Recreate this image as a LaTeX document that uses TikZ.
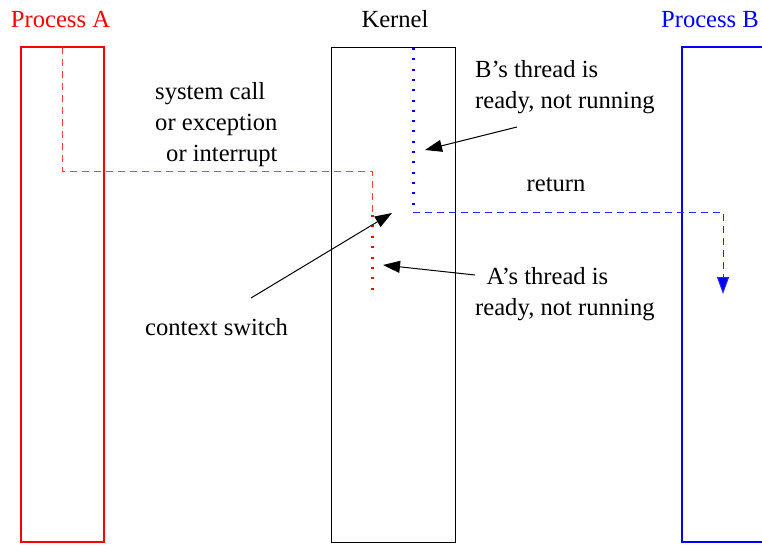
\documentclass[tikz,border=0pt]{standalone}
\usepackage{fontspec}
\setmainfont{Liberation Serif}
\usetikzlibrary{arrows.meta}
\begin{document}
\begin{tikzpicture}[x=1pt,y=-1pt,
  lbl/.style={inner sep=0pt,anchor=base west,font=\fontsize{24.6}{31}\selectfont},
  ttl/.style={inner sep=0pt,anchor=base,font=\fontsize{24.6}{31}\selectfont},
  pointer/.style={draw=black,line width=1pt,-{Triangle[length=17pt,width=12pt]}},
  redflow/.style={draw=red!75,line width=1pt,dash pattern=on 7pt off 5pt},
  reddot/.style={draw=red,line width=3pt,dash pattern=on 2pt off 8.4pt},
  blueflow/.style={draw=blue!85,line width=1pt,dash pattern=on 7pt off 5pt,-{Triangle[length=17pt,width=12pt,fill=blue]}},
  bluedot/.style={draw=blue,line width=3pt,dash pattern=on 2pt off 8.3pt}]
\useasboundingbox (0,0) rectangle (762,544);
% boxes
\draw[red,line width=2pt] (21,47) rectangle (104,542);
\draw[black,line width=1pt] (331,47) rectangle (455,542);
\draw[blue,line width=2pt] (775,542) -- (682,542) -- (682,47) -- (775,47);
% titles
\node[ttl,red] (pa) at (60.5,27) {Process A};
\node[ttl] (kn) at (395,27) {Kernel};
\node[ttl,blue] (pb) at (710,27) {Process B};
% coordinates
\coordinate (a0) at (62,47);
\coordinate (a1) at (62,171);
\coordinate (a2) at (372,171);
\coordinate (a3) at (372,215);
\coordinate (a4) at (372,290);
\coordinate (b0) at (413,48);
\coordinate (b1) at (413,207);
\coordinate (b2) at (413,212);
\coordinate (b3) at (723,212);
\coordinate (b4) at (723,294);
% flows
\draw[redflow] (a0) -- (a1) -- (a2) -- (a3);
\draw[reddot] (a3) -- (a4);
\draw[bluedot] (b0) -- (b1);
\draw[blueflow] (b2) -- (b3) -- (b4);
% labels
\node[lbl] (sc1) at (155,99) {system call};
\node[lbl] (sc2) at (155,130) {or exception};
\node[lbl] (sc3) at (166,161) {or interrupt};
\node[lbl] (bt1) at (475,77) {B’s thread is};
\node[lbl] (bt2) at (475,108) {ready, not running};
\node[ttl] (ret) at (556,191.5) {return};
\node[lbl] (at1) at (486.5,284) {A’s thread is};
\node[lbl] (at2) at (475,315) {ready, not running};
\node[lbl] (cs) at (145,335) {context switch};
% pointer arrows
\coordinate (bs) at (517,127);
\coordinate (be) at (425,150);
\coordinate (as) at (475,275);
\coordinate (ae) at (383,265);
\coordinate (cs0) at (251,298);
\coordinate (cs1) at (392,213);
\draw[pointer] (bs) -- (be);
\draw[pointer] (as) -- (ae);
\draw[pointer] (cs0) -- (cs1);
\end{tikzpicture}
\end{document}
